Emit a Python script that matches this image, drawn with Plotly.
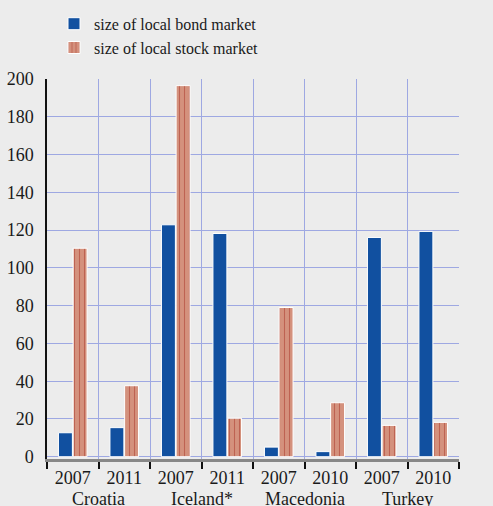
import plotly.graph_objects as go

countries = ["Croatia", "Croatia", "Iceland*", "Iceland*", "Macedonia", "Macedonia", "Turkey", "Turkey"]
years = ["2007", "2011", "2007", "2011", "2007", "2010", "2007", "2010"]
bond = [12.7, 15.4, 122.8, 118.2, 5.1, 2.7, 116.1, 119.3]
stock = [110.4, 37.6, 196.5, 20.4, 79.0, 28.6, 16.6, 18.2]
y_ticks = [0, 20, 40, 60, 80, 100, 120, 140, 160, 180, 200]

FONT = "Liberation Serif"
BG = "#ececec"
GRID = "#9ea8e2"
TXT = "#1a1a1a"

keys = [f"{c} {y}" for c, y in zip(countries, years)]

fig = go.Figure()
fig.add_trace(go.Bar(
    x=keys, y=bond, name="size of local bond market",
    marker=dict(color="#1150a0", line=dict(color="white", width=1)),
))
fig.add_trace(go.Bar(
    x=keys, y=stock, name="size of local stock market",
    marker=dict(color="#d4917d", line=dict(color="white", width=1),
                pattern=dict(shape="|", fgcolor="#a83328", size=5, solidity=0.22)),
))

# country group labels, centred under each pair of categories
seen = []
for c in countries:
    if c not in seen:
        seen.append(c)
for c in seen:
    idx = [i for i, cc in enumerate(countries) if cc == c]
    fig.add_annotation(x=sum(idx) / len(idx), xref="x", y=0, yref="paper",
                       yshift=-40, text=c, showarrow=False, yanchor="middle",
                       font=dict(family=FONT, size=18, color=TXT))

fig.update_layout(
    width=493, height=506,
    paper_bgcolor=BG, plot_bgcolor=BG,
    margin=dict(l=47, r=34, t=79, b=47, autoexpand=False),
    font=dict(family=FONT, size=18, color=TXT),
    barmode="group", bargap=0.43, bargroupgap=0.05,
    showlegend=True,
    legend=dict(xref="paper", yref="paper", x=0.017, y=1.19,
                xanchor="left", yanchor="top", bgcolor="rgba(0,0,0,0)",
                font=dict(family=FONT, size=16, color=TXT),
                tracegroupgap=0),
    xaxis=dict(
        type="category", categoryorder="array", categoryarray=keys,
        tickvals=keys, ticktext=years, tickangle=0, automargin=False,
        tickson="boundaries", showgrid=True, gridcolor=GRID, gridwidth=1,
        showline=True, linecolor="#888888", linewidth=3,
        ticks="outside", tickcolor="#111111", ticklen=7, tickwidth=1.5,
        tickfont=dict(family=FONT, size=18, color=TXT),
    ),
    yaxis=dict(
        range=[-1.2, 200], tickvals=y_ticks, showgrid=True, gridcolor=GRID, gridwidth=1,
        zeroline=False, showline=True, linecolor="#111111", linewidth=1.5,
        ticks="", ticklabelstandoff=8, automargin=False,
        tickfont=dict(family=FONT, size=18, color=TXT),
    ),
    yaxis2=dict(
        range=[-1.2, 200], tickvals=y_ticks, overlaying="y", side="right",
        showgrid=False, zeroline=False, showline=True, linecolor="#111111", linewidth=1.5,
        ticks="", ticklabelstandoff=6, automargin=False,
        tickfont=dict(family=FONT, size=18, color=TXT),
    ),
)

fig.write_html(
    "out.html",
    config={"displayModeBar": False},
    post_script="document.body.style.margin='0';document.body.style.background='#ececec';",
)
